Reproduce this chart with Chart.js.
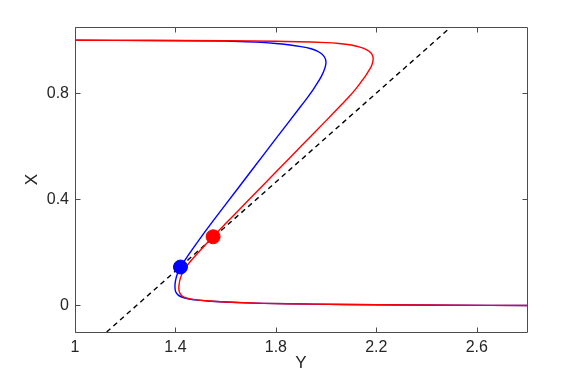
<!DOCTYPE html>
<html>
<head>
<meta charset="utf-8">
<script src="https://cdn.jsdelivr.net/npm/chart.js@4/dist/chart.umd.min.js"></script>
<style>
  html, body { margin: 0; padding: 0; background: #ffffff; }
  #wrap { width: 581px; height: 374px; }
</style>
</head>
<body>
<div id="wrap"><canvas id="c" width="581" height="374"></canvas></div>
<script>
// Horizontal axis "Y", vertical axis "X"
const blueY = [1.00, 1.30, 1.60, 1.72, 1.80, 1.85, 1.90, 1.94, 1.965, 1.983, 1.994, 1.999, 1.998, 1.991, 1.980, 1.965, 1.947, 1.925, 1.900, 1.80, 1.70, 1.60, 1.55, 1.51, 1.47, 1.44, 1.42, 1.407, 1.400, 1.398, 1.401, 1.410, 1.425, 1.45, 1.49, 1.54, 1.62, 1.75, 1.95, 2.2, 2.5, 2.8];
const blueX = [1.000, 0.999, 0.997, 0.993, 0.988, 0.983, 0.976, 0.968, 0.959, 0.948, 0.936, 0.922, 0.905, 0.884, 0.862, 0.838, 0.812, 0.783, 0.752, 0.629, 0.505, 0.381, 0.319, 0.268, 0.215, 0.174, 0.145, 0.118, 0.092, 0.070, 0.052, 0.040, 0.032, 0.025, 0.020, 0.016, 0.012, 0.008, 0.005, 0.003, 0.001, 0.000];

const redY = [1.00, 1.40, 1.80, 2.00, 2.05, 2.10, 2.135, 2.162, 2.178, 2.186, 2.187, 2.182, 2.172, 2.157, 2.137, 2.115, 2.090, 2.060, 2.00, 1.90, 1.80, 1.70, 1.60, 1.55, 1.50, 1.46, 1.435, 1.420, 1.414, 1.415, 1.424, 1.442, 1.47, 1.52, 1.60, 1.75, 1.95, 2.20, 2.50, 2.80];
const redX = [1.000, 0.999, 0.996, 0.991, 0.988, 0.982, 0.974, 0.964, 0.953, 0.940, 0.925, 0.906, 0.888, 0.866, 0.840, 0.813, 0.786, 0.756, 0.697, 0.600, 0.503, 0.406, 0.309, 0.260, 0.209, 0.167, 0.135, 0.104, 0.075, 0.053, 0.038, 0.029, 0.023, 0.018, 0.013, 0.008, 0.005, 0.003, 0.001, 0.000];

const dashY = [1.126, 2.497];
const dashX = [-0.10, 1.05];

const blueDotY = [1.42], blueDotX = [0.145];
const redDotY = [1.55], redDotX = [0.259];

const xTicks = [1, 1.4, 1.8, 2.2, 2.6];
const yTicks = [0, 0.4, 0.8];
const xRange = [1, 2.8];
const yRange = [-0.1, 1.05];

const pts = (xs, ys) => xs.map((v, i) => ({ x: v, y: ys[i] }));

const boxPlugin = {
  id: 'boxTicks',
  afterDatasetsDraw(chart) {
    const { ctx, chartArea: a, scales } = chart;
    ctx.save();
    ctx.strokeStyle = '#4d4d4d';
    ctx.lineWidth = 1;
    const L = Math.round(a.left) + 0.5, R = Math.round(a.right) + 0.5;
    const T = Math.round(a.top) + 0.5, B = Math.round(a.bottom) + 0.5;
    ctx.beginPath();
    ctx.rect(L, T, R - L, B - T);
    const tl = 5;
    xTicks.forEach(v => {
      const p = Math.round(scales.x.getPixelForValue(v)) + 0.5;
      ctx.moveTo(p, B); ctx.lineTo(p, B - tl);
      ctx.moveTo(p, T); ctx.lineTo(p, T + tl);
    });
    yTicks.forEach(v => {
      const p = Math.round(scales.y.getPixelForValue(v)) + 0.5;
      ctx.moveTo(L, p); ctx.lineTo(L + tl, p);
      ctx.moveTo(R, p); ctx.lineTo(R - tl, p);
    });
    ctx.stroke();
    ctx.restore();
  }
};

const fontFam = "'Liberation Sans', Arial, Helvetica, sans-serif";

new Chart(document.getElementById('c'), {
  type: 'scatter',
  data: {
    datasets: [
      { data: pts(blueDotY, blueDotX), pointRadius: 7, pointBackgroundColor: '#0000ff', pointBorderColor: '#0000ff', showLine: false, order: 0 },
      { data: pts(redDotY, redDotX), pointRadius: 7, pointBackgroundColor: '#ff0000', pointBorderColor: '#ff0000', showLine: false, order: 1 },
      { data: pts(redY, redX), showLine: true, borderColor: '#ff0000', borderWidth: 1.4, pointRadius: 0, tension: 0.3, fill: false, order: 2 },
      { data: pts(blueY, blueX), showLine: true, borderColor: '#0000ff', borderWidth: 1.4, pointRadius: 0, tension: 0.3, fill: false, order: 3 },
      { data: pts(dashY, dashX), showLine: true, borderColor: '#000000', borderWidth: 1.4, borderDash: [5, 4], pointRadius: 0, fill: false, order: 4 }
    ]
  },
  options: {
    responsive: false,
    animation: false,
    events: [],
    layout: { padding: { left: 0, top: 27, right: 54, bottom: 0 } },
    plugins: { legend: { display: false }, tooltip: { enabled: false } },
    scales: {
      x: {
        type: 'linear', min: xRange[0], max: xRange[1],
        grid: { display: false, drawTicks: false },
        border: { display: false },
        afterBuildTicks: s => { s.ticks = xTicks.map(v => ({ value: v })); },
        afterFit: s => { s.height = 42; },
        ticks: { padding: 6, color: '#262626', font: { family: fontFam, size: 16 }, callback: v => String(v) },
        title: { display: true, text: 'Y', color: '#262626', font: { family: fontFam, size: 17 }, padding: { top: 0, bottom: 0 } }
      },
      y: {
        type: 'linear', min: yRange[0], max: yRange[1],
        grid: { display: false, drawTicks: false },
        border: { display: false },
        afterBuildTicks: s => { s.ticks = yTicks.map(v => ({ value: v })); },
        afterFit: s => { s.width = 75; },
        ticks: { padding: 6, color: '#262626', font: { family: fontFam, size: 16 }, callback: v => String(v) },
        title: { display: true, text: 'X', color: '#262626', font: { family: fontFam, size: 17 }, padding: { top: 22, bottom: 0 } }
      }
    }
  },
  plugins: [boxPlugin]
});
</script>
</body>
</html>
